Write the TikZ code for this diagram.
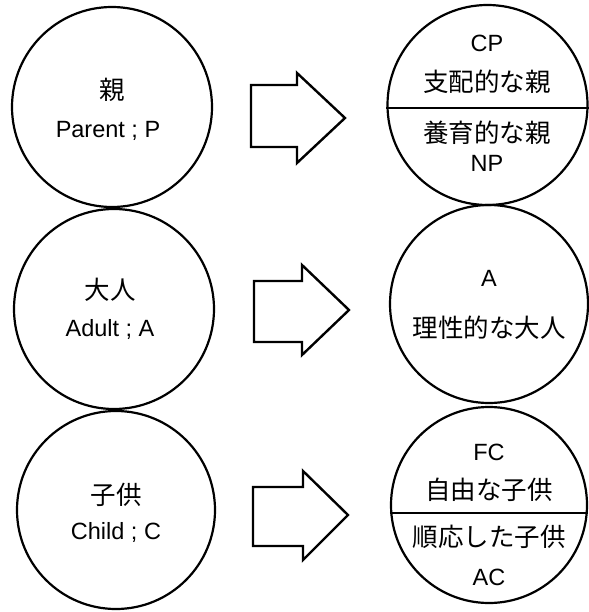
\documentclass[tikz,border=0pt]{standalone}
\usepackage{fontspec}
\setmainfont{Noto Sans CJK JP}
\newfontfamily\latfont{Liberation Sans}
\begin{document}
\begin{tikzpicture}[x=1pt,y=-1pt,
  circ/.style={draw,circle,line width=2.2pt,inner sep=0pt,minimum size=#1},
  jp/.style={inner sep=0pt,font=\fontsize{25.5}{28}\selectfont},
  lat/.style={inner sep=0pt,font=\latfont\fontsize{23.5}{26}\selectfont},
  blockarrow/.style={draw,line width=2.4pt,line join=miter,fill=white},
  divider/.style={line width=2.4pt}]
\useasboundingbox (0,0) rectangle (588,612);
% left circles
\node[circ=200pt] (L1) at (112,107) {};
\node[circ=200pt] (L2) at (114,309) {};
\node[circ=198pt] (L3) at (116,510) {};
\node[jp] (L1a) at (112,90) {親};
\node[lat] (L1b) at (108,131) {Parent ; P};
\node[jp] (L2a) at (110,290) {大人};
\node[lat] (L2b) at (110,329) {Adult ; A};
\node[jp] (L3a) at (116,495) {子供};
\node[lat] (L3b) at (116,532) {Child ; C};
% block arrows
\draw[blockarrow] (251,85) -- (297,85) -- (297,73) -- (345,118) -- (297,163) -- (297,147) -- (251,147) -- cycle;
\draw[blockarrow] (254,281) -- (302,281) -- (302,265) -- (349,310) -- (302,355) -- (302,342) -- (254,342) -- cycle;
\draw[blockarrow] (253,487) -- (303,487) -- (303,471) -- (348,515) -- (303,560) -- (303,546) -- (253,546) -- cycle;
% right circles
\node[circ=200pt] (R1) at (487.5,105) {};
\node[circ=198pt] (R2) at (489,304) {};
\node[circ=196pt] (R3) at (489,505) {};
\draw[divider] (R1.west |- 0,108) -- (R1.east |- 0,108);
\draw[divider] (R3.west |- 0,513) -- (R3.east |- 0,513);
\node[lat] (R1a) at (487,43) {CP};
\node[jp] (R1b) at (487,82) {支配的な親};
\node[jp] (R1c) at (487,133) {養育的な親};
\node[lat] (R1d) at (487,163) {NP};
\node[lat] (R2a) at (489,278) {A};
\node[jp] (R2b) at (489,328) {理性的な大人};
\node[lat] (R3a) at (489,452) {FC};
\node[jp] (R3b) at (489,490) {自由な子供};
\node[jp] (R3c) at (489,537) {順応した子供};
\node[lat] (R3d) at (489,577) {AC};
\end{tikzpicture}
\end{document}
